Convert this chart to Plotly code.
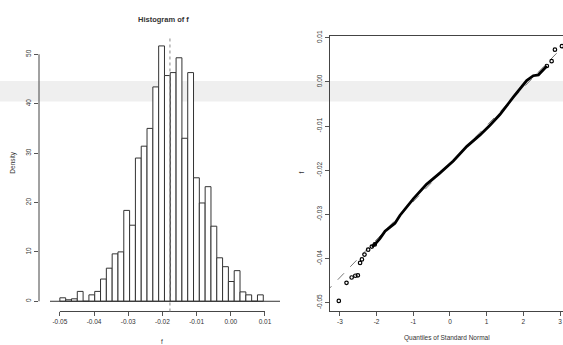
import plotly.graph_objects as go

W, H = 563, 345

# ---------------- data ----------------
# histogram of f (density), bins start at -0.05, width 0.0017
bin_start = -0.05
bin_width = 0.0017
density = [0.7, 0.3, 0.5, 2.0, 0.0, 1.3, 2.0, 4.5, 6.7, 9.6, 10.0, 18.4, 15.4,
           29.0, 31.4, 35.0, 43.4, 51.7, 45.7, 46.3, 49.3, 33.0, 46.3, 25.0,
           19.9, 23.2, 15.2, 8.8, 7.0, 4.0, 6.2, 1.9, 1.3, 0.0, 1.3]
hist_mean = -0.0178
hist_xticks = [-0.05, -0.04, -0.03, -0.02, -0.01, 0.00, 0.01]
hist_xtext = ["-0.05", "-0.04", "-0.03", "-0.02", "-0.01", "0.00", "0.01"]
hist_yticks = [0, 10, 20, 30, 40, 50]

# normal QQ plot of f
qq_theo = [-3.03, -2.82, -2.68, -2.58, -2.51, -2.45, -2.40, -2.33, -2.23, -2.13,
           -2.05, -1.91, -1.77, -1.50, -1.36, -1.00, -0.64, -0.27, 0.09, 0.46,
           0.82, 1.09, 1.36, 1.73, 2.09, 2.27, 2.41, 2.64, 2.77, 2.86, 3.05]
qq_sample = [-0.0496, -0.0455, -0.0443, -0.0439, -0.0438, -0.0410, -0.0402,
             -0.0391, -0.0380, -0.0373, -0.0368, -0.0355, -0.0338, -0.0320,
             -0.0302, -0.0265, -0.0232, -0.0206, -0.0179, -0.0146, -0.0120,
             -0.0098, -0.0074, -0.0034, 0.0003, 0.0014, 0.0016, 0.0036,
             0.0047, 0.0073, 0.0081]
qq_line_intercept = -0.0185
qq_line_slope = 0.0086
qq_xticks = [-3, -2, -1, 0, 1, 2, 3]
qq_yticks = [-0.05, -0.04, -0.03, -0.02, -0.01, 0.00, 0.01]
qq_ytext = ["-0.05", "-0.04", "-0.03", "-0.02", "-0.01", "0.00", "0.01"]

# ---------------- layout helpers ----------------
def px(x):
    return x / W

def py(y):
    return 1 - y / H

FONT = "Liberation Sans, Arial, sans-serif"
TXT = "#333333"

fig = go.Figure()

# histogram bars
centers = [bin_start + (i + 0.5) * bin_width for i in range(len(density))]
fig.add_trace(go.Bar(x=centers, y=density, width=bin_width,
                     marker=dict(color="white", line=dict(color="#333333", width=1)),
                     xaxis="x", yaxis="y", showlegend=False))

# QQ reference line
line_x = [-3.4, 3.2]
fig.add_trace(go.Scatter(x=line_x, y=[qq_line_intercept + qq_line_slope * t for t in line_x],
                         mode="lines", line=dict(color="#777777", width=1, dash="dash"),
                         xaxis="x2", yaxis="y2", showlegend=False))
# dense middle part of QQ points (drawn as a thick band)
mid = [i for i, t in enumerate(qq_theo) if -2.15 <= t <= 2.65]
fig.add_trace(go.Scatter(x=[qq_theo[i] for i in mid], y=[qq_sample[i] for i in mid],
                         mode="lines", line=dict(color="black", width=2.8),
                         xaxis="x2", yaxis="y2", showlegend=False))
# sparse tail points
tail = [i for i, t in enumerate(qq_theo) if t < -2.0 or t > 2.6]
fig.add_trace(go.Scatter(x=[qq_theo[i] for i in tail], y=[qq_sample[i] for i in tail],
                         mode="markers",
                         marker=dict(symbol="circle-open", size=3.5, color="black",
                                     line=dict(width=1.2, color="black")),
                         xaxis="x2", yaxis="y2", showlegend=False))

ydom = [py(311), py(31)]
tickfont = dict(family=FONT, size=6.5, color=TXT)

fig.update_layout(
    width=W, height=H, margin=dict(l=0, r=0, t=0, b=0),
    paper_bgcolor="white", plot_bgcolor="rgba(0,0,0,0)",
    bargap=0,
    xaxis=dict(domain=[px(39), px(287)], range=[-0.0561, 0.01644],
               tickvals=hist_xticks, ticktext=hist_xtext, ticks="outside",
               ticklen=4, tickcolor="#555555", showline=False, showgrid=False,
               zeroline=False, tickfont=tickfont),
    yaxis=dict(domain=ydom, range=[-2.07, 53.8], tickvals=hist_yticks,
               ticks="outside", ticklen=4, tickcolor="#555555", tickangle=-90,
               showline=False, showgrid=False, zeroline=False, tickfont=tickfont),
    xaxis2=dict(domain=[px(330), 1.0], range=[-3.27, 3.08], anchor="y2",
                tickvals=qq_xticks, ticktext=[str(v) for v in qq_xticks],
                ticks="outside", ticklen=4, tickcolor="#555555",
                showline=True, linecolor="#444444", linewidth=1, mirror=True,
                showgrid=False, zeroline=False, tickfont=tickfont),
    yaxis2=dict(domain=ydom, range=[-0.052, 0.0105], anchor="x2",
                tickvals=qq_yticks, ticktext=qq_ytext, ticks="outside",
                ticklen=4, tickcolor="#555555", tickangle=-90,
                showline=True, linecolor="#444444", linewidth=1,
                showgrid=False, zeroline=False, tickfont=tickfont),
)

shapes = []
# light gray band (background)
shapes.append(dict(type="rect", xref="paper", yref="paper", x0=0, x1=1,
                   y0=py(98), y1=py(77), fillcolor="#efefef", line=dict(width=0),
                   layer="below"))
# histogram axis lines spanning tick extents
shapes.append(dict(type="line", xref="x", yref="paper", x0=min(hist_xticks),
                   x1=max(hist_xticks), y0=ydom[0], y1=ydom[0],
                   line=dict(color="#444444", width=1)))
shapes.append(dict(type="line", xref="paper", yref="y", x0=px(39), x1=px(39),
                   y0=min(hist_yticks), y1=max(hist_yticks),
                   line=dict(color="#444444", width=1)))
# baseline under bars
shapes.append(dict(type="line", xref="paper", yref="y", x0=px(50), x1=px(280),
                   y0=0, y1=0, line=dict(color="#333333", width=1)))
# mean dashed line
shapes.append(dict(type="line", xref="x", yref="paper", x0=hist_mean, x1=hist_mean,
                   y0=ydom[0], y1=ydom[1],
                   line=dict(color="#888888", width=1, dash="dot")))
fig.update_layout(shapes=shapes)

ann = [
    dict(text="<b>Histogram of f</b>", x=px(163), y=py(15), size=7.5),
    dict(text="f", x=px(162), y=py(341), size=6.5),
    dict(text="Quantiles of Standard Normal", x=px(447), y=py(338), size=6.5),
]
annotations = []
for a in ann:
    annotations.append(dict(text=a["text"], x=a["x"], y=a["y"], xref="paper",
                            yref="paper", showarrow=False, xanchor="center",
                            yanchor="middle",
                            font=dict(family=FONT, size=a["size"], color=TXT)))
annotations.append(dict(text="Density", x=px(13), y=py(160), xref="paper",
                        yref="paper", showarrow=False, textangle=-90,
                        xanchor="center", yanchor="middle",
                        font=dict(family=FONT, size=6.5, color=TXT)))
annotations.append(dict(text="f", x=px(302), y=py(170), xref="paper",
                        yref="paper", showarrow=False, textangle=-90,
                        xanchor="center", yanchor="middle",
                        font=dict(family=FONT, size=6.5, color=TXT)))
fig.update_layout(annotations=annotations)

fig.write_html("out.html",
               config={"displayModeBar": False, "staticPlot": True},
               post_script="document.body.style.margin='0';"
                           "document.body.style.padding='0';"
                           "document.body.style.overflow='hidden';")
